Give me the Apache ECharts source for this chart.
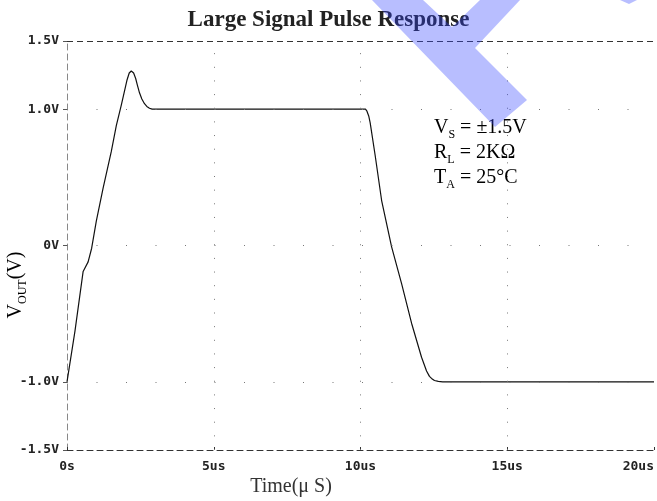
<!DOCTYPE html>
<html>
<head>
<meta charset="utf-8">
<title>Large Signal Pulse Response</title>
<script src="https://cdn.jsdelivr.net/npm/echarts@6/dist/echarts.min.js"></script>
<style>
  html, body { margin: 0; padding: 0; background: #fff; }
  #main { width: 657px; height: 501px; }
</style>
</head>
<body>
<div id="main"></div>
<script>
// time in us, output in volts
var timeUs = [0, 0.27, 0.55, 0.72, 0.84, 1.0, 1.23, 1.51, 1.68, 1.85, 2.04, 2.12, 2.19, 2.27, 2.34, 2.4, 2.47, 2.55, 2.64, 2.72, 2.81, 2.9, 3.2,
  10.17, 10.22, 10.28, 10.33, 10.5, 10.72, 11.06, 11.4, 11.74, 12.08, 12.25, 12.35, 12.42, 12.52, 12.65, 12.8, 13.2, 20];
var voutV = [-1.0, -0.63, -0.19, -0.12, -0.02, 0.18, 0.42, 0.69, 0.88, 1.03, 1.21, 1.265, 1.28, 1.265, 1.225, 1.175, 1.12, 1.075, 1.04, 1.02, 1.007, 1.0, 1.0,
  1.0, 0.985, 0.95, 0.9, 0.66, 0.33, -0.01, -0.28, -0.57, -0.82, -0.92, -0.96, -0.975, -0.99, -0.997, -1.0, -1.0, -1.0];
var yTicks = [-1.5, -1.0, 0, 1.0, 1.5];
var xTicks = [0, 5, 10, 15, 20];
var hGrid = [1.0, 0, -1.0];
var vGrid = [5, 10, 15];
var notes = [
  ['V', 'S', ' = ±1.5V'],
  ['R', 'L', ' = 2KΩ'],
  ['T', 'A', ' = 25°C']
];

var chart = echarts.init(document.getElementById('main'), null, { renderer: 'canvas' });

var serif = 'Liberation Serif';
var mono = 'DejaVu Sans Mono';
var subRich = {
  m: { fontFamily: serif, fontSize: 20, color: '#333', verticalAlign: 'top', lineHeight: 23 },
  s: { fontFamily: serif, fontSize: 12, color: '#333', verticalAlign: 'bottom', lineHeight: 23 }
};

var markData = [];
hGrid.forEach(function (v) {
  markData.push({ yAxis: v, lineStyle: { color: '#777', width: 1, type: [1, 28.5] } });
});
vGrid.forEach(function (t) {
  markData.push({ xAxis: t, lineStyle: { color: '#777', width: 1, type: [1, 12.65] } });
});
// dashed top border
markData.push({ yAxis: 1.5, lineStyle: { color: '#333', width: 1, type: [6, 4] } });

var graphic = [];
notes.forEach(function (n, i) {
  graphic.push({
    type: 'text',
    x: 434,
    y: 129 + i * 25,
    style: {
      text: '{m|' + n[0] + '}{s|' + n[1] + '}{m|' + n[2] + '}',
      rich: subRich,
      verticalAlign: 'middle'
    }
  });
});
// y axis name, rotated
graphic.push({
  type: 'text',
  x: 17,
  y: 285,
  rotation: Math.PI / 2,
  style: {
    text: '{m|V}{s|OUT}{m|(V)}',
    rich: subRich,
    align: 'center',
    verticalAlign: 'middle'
  }
});
graphic.push({
  type: 'text',
  x: 291,
  y: 487,
  style: {
    text: 'Time(μ S)',
    fontFamily: serif,
    fontSize: 20,
    fill: '#333',
    align: 'center',
    verticalAlign: 'middle'
  }
});
// blue watermark over the top of the plot
graphic.push({
  type: 'polygon',
  z: 100,
  silent: true,
  shape: { points: [[372, 0], [423, 0], [452, 27], [480, 0], [520, 0], [475, 48], [527, 100], [495, 127]] },
  style: { fill: 'rgba(51,68,255,0.35)' }
});
graphic.push({
  type: 'polygon',
  z: 100,
  silent: true,
  shape: { points: [[620, 0], [637, 0], [629, 4]] },
  style: { fill: 'rgba(51,68,255,0.35)' }
});

var option = {
  animation: false,
  title: {
    text: 'Large Signal Pulse Response',
    left: 'center',
    top: 4,
    textStyle: { fontFamily: serif, fontSize: 23, fontWeight: 'bold', color: '#222' }
  },
  grid: { left: 67, right: 0, top: 41, bottom: 51 },
  xAxis: {
    type: 'value',
    min: 0,
    max: 20,
    interval: 5,
    axisLine: { onZero: false, lineStyle: { color: '#333', width: 1, type: [6, 4] } },
    axisTick: { inside: true, length: 3, lineStyle: { color: '#333' }, customValues: xTicks },
    axisLabel: {
      margin: 10,
      fontFamily: mono,
      fontWeight: 'bold',
      fontSize: 13,
      color: '#222',
      alignMaxLabel: 'right',
      customValues: xTicks,
      formatter: function (v) { return v === 0 ? '0s' : v + 'us'; }
    },
    splitLine: { show: false }
  },
  yAxis: {
    type: 'value',
    min: -1.5,
    max: 1.5,
    interval: 0.5,
    axisLine: { show: true, onZero: false, lineStyle: { color: '#888', width: 1, type: [6, 4] } },
    axisTick: { show: true, length: 4, lineStyle: { color: '#555' }, customValues: yTicks },
    axisLabel: {
      margin: 8,
      fontFamily: mono,
      fontWeight: 'bold',
      fontSize: 13,
      color: '#222',
      customValues: yTicks,
      formatter: function (v) { return v === 0 ? '0V' : v.toFixed(1) + 'V'; }
    },
    splitLine: { show: false }
  },
  series: [{
    type: 'line',
    data: timeUs.map(function (t, i) { return [t, voutV[i]]; }),
    showSymbol: false,
    smooth: false,
    lineStyle: { color: '#111', width: 1.2 },
    markLine: {
      silent: true,
      symbol: 'none',
      label: { show: false },
      emphasis: { disabled: true },
      data: markData
    }
  }],
  graphic: graphic
};

chart.setOption(option);
</script>
</body>
</html>
